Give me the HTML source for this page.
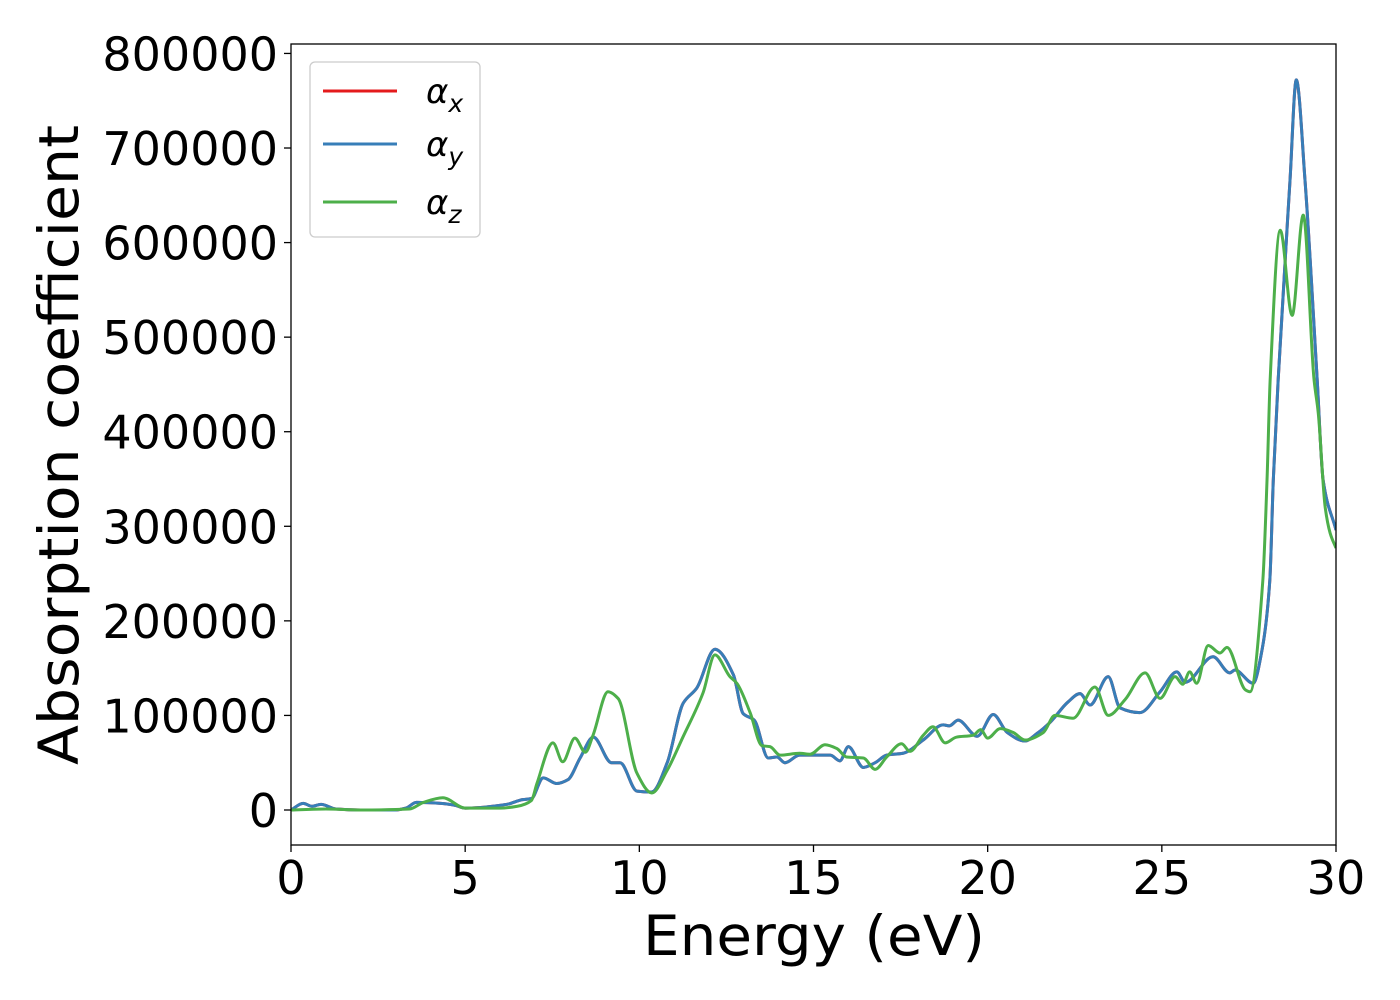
<!DOCTYPE html>
<html><head><meta charset="utf-8"><style>
html,body{margin:0;padding:0;background:#fff;}
svg{display:block;font-family:"DejaVu Sans","Liberation Sans",sans-serif;}
</style></head><body>
<svg id="chart" width="1400" height="1000" viewBox="0 0 1400 1000">
<g id="plot"></g>
</svg>
<script>
const xTicks = [0,5,10,15,20,25,30];
const yTicks = [0,100000,200000,300000,400000,500000,600000,700000,800000];
const xyEnergy = [0,0.35,0.6,0.86,1.3,2,3,3.3,3.6,4.3,4.7,5,6.2,6.65,6.9,7.24,7.63,7.95,8.3,8.68,9.2,9.45,9.93,10.35,10.8,11.26,11.65,12.17,12.7,12.98,13.3,13.7,13.95,14.18,14.6,15.48,15.76,16.0,16.43,16.77,17.1,17.57,18.15,18.72,18.9,19.15,19.7,20.16,20.56,21.07,21.42,21.8,22.3,22.65,22.94,23.46,23.8,24.37,24.95,25.43,25.67,26.47,26.95,27.1,27.62,27.88,28.1,28.2,28.34,28.68,28.86,29.11,29.46,29.63,30];
const xyValues = [0,7,4,6,1,0,0,2,8,7,5,2,6,11,12,34,28,32,55,77,50,50,20,19,50,113,129,170,143,102,95,55,56,50,58,58,52,67,45,50,58,60,74,90,89,95,78,101,82,73,81,93,114,123,111,141,108,103,125,146,135,162,145,148,134,170,243,349,455,666,772,666,455,349,296].map(v=>v*1000);
const zEnergy = [0,1,2,3.4,3.8,4.36,5,6,6.5,6.9,7.06,7.52,7.8,8.15,8.45,8.67,9.1,9.39,9.93,10.36,10.8,11.25,11.83,12.17,12.6,12.8,13.18,13.52,13.75,14.04,14.6,14.9,15.33,15.67,15.95,16.43,16.77,17.1,17.53,17.77,18.15,18.43,18.78,19.1,19.58,19.8,20.0,20.36,20.73,21.07,21.6,21.93,22.45,23.08,23.46,23.95,24.52,24.95,25.38,25.6,25.8,26.0,26.33,26.67,26.87,27.4,27.53,27.9,28.02,28.11,28.4,28.74,29.06,29.37,29.49,29.69,29.83,30];
const zValues = [0,1,0,1,8,13,2,2,4,10,28,71,51,76,61,79,125,118,39,18,42,77,124,164,141,134,103,68,67,58,60,59,69,65,56,55,43,56,70,62,79,88,71,77,79,85,76,86,82,74,82,100,97,130,100,117,145,118,141,133,146,134,174,166,172,127,125,243,349,455,613,523,629,455,420,320,293,277].map(v=>v*1000);

const L=291,R=1336,T=44,B=845;
const X = e => L + (e-0)/(30-0)*(R-L);
const Y = v => 810 - v/100000*94.57;
const NS="http://www.w3.org/2000/svg";
const svg=document.getElementById('chart');
const plot=document.getElementById('plot');
function mk(tag,attrs,parent){const el=document.createElementNS(NS,tag);for(const k in attrs)el.setAttribute(k,attrs[k]);(parent||svg).appendChild(el);return el;}

const defs=mk('defs',{});
const cp=mk('clipPath',{id:'clip'},defs);
mk('rect',{x:L,y:T,width:R-L,height:B-T},cp);

// monotone cubic interpolation (Fritsch-Carlson) in pixel space
function pathFrom(xs,vs){
  const px=xs.map(X), py=vs.map(Y), n=px.length;
  const d=[],m=new Array(n);
  for(let i=0;i<n-1;i++)d.push((py[i+1]-py[i])/(px[i+1]-px[i]));
  m[0]=d[0];m[n-1]=d[n-2];
  for(let i=1;i<n-1;i++){
    if(d[i-1]*d[i]<=0)m[i]=0;
    else{const h0=px[i]-px[i-1],h1=px[i+1]-px[i];
      m[i]=3*(h0+h1)/((2*h1+h0)/d[i-1]+(h1+2*h0)/d[i]);}
  }
  let s=`M${px[0]},${py[0]}`;
  for(let i=0;i<n-1;i++){
    const h=(px[i+1]-px[i])/3;
    s+=` C${px[i]+h},${py[i]+m[i]*h} ${px[i+1]-h},${py[i+1]-m[i+1]*h} ${px[i+1]},${py[i+1]}`;
  }
  return s;
}
const g=mk('g',{'clip-path':'url(#clip)'},plot);
let el;
el=mk('path',{d:pathFrom(xyEnergy,xyValues),fill:'none',stroke:'#e41a1c','stroke-width':3,'stroke-linejoin':'round'},g);


el=mk('path',{d:pathFrom(xyEnergy,xyValues),fill:'none',stroke:'#377eb8','stroke-width':3,'stroke-linejoin':'round'},g);


el=mk('path',{d:pathFrom(zEnergy,zValues),fill:'none',stroke:'#4daf4a','stroke-width':3,'stroke-linejoin':'round'},g);



el=mk('rect',{x:L,y:T,width:R-L,height:B-T,fill:'none',stroke:'#000','stroke-width':1.3},plot);



xTicks.forEach(t=>{
  mk('line',{x1:X(t),x2:X(t),y1:B,y2:B+7,stroke:'#000','stroke-width':1.3});
  const tx=mk('text',{x:X(t),y:894,'font-size':46,'text-anchor':'middle',fill:'#000'});
  tx.textContent=t;
  
  
});
yTicks.forEach(t=>{
  mk('line',{x1:L-7,x2:L,y1:Y(t),y2:Y(t),stroke:'#000','stroke-width':1.3});
  const tx=mk('text',{x:278,y:Y(t)+17,'font-size':46,'text-anchor':'end',fill:'#000'});
  tx.textContent=t;
  
  
});
el=mk('text',{x:814,y:955,'font-size':55,'text-anchor':'middle',fill:'#000',textLength:342,lengthAdjust:'spacingAndGlyphs'});
el.textContent='Energy (eV)';


el=mk('text',{x:0,y:0,'font-size':55,'text-anchor':'middle',fill:'#000',transform:'translate(78,445) rotate(-90)',textLength:640,lengthAdjust:'spacingAndGlyphs'});
el.textContent='Absorption coefficient';



const lg=mk('g',{});


mk('rect',{x:310,y:62,width:170,height:175,rx:5,fill:'#fff',stroke:'#ccc','stroke-width':1.3},lg);
const legNames=['x','y','z'];
const legColors=['#e41a1c','#377eb8','#4daf4a'];
const legY=[91,144,202];
legNames.forEach((n,i)=>{
  const e=mk('g',{},lg);
  
  
  mk('line',{x1:323,x2:397,y1:legY[i],y2:legY[i],stroke:legColors[i],'stroke-width':3},e);
  const t=mk('text',{x:426,y:legY[i]+12,'font-size':34,'font-style':'italic',fill:'#000'},e);
  t.textContent='α';
  const s=mk('tspan',{'font-size':25,dy:9},t);
  s.textContent=n;
});
</script>
</body></html>
